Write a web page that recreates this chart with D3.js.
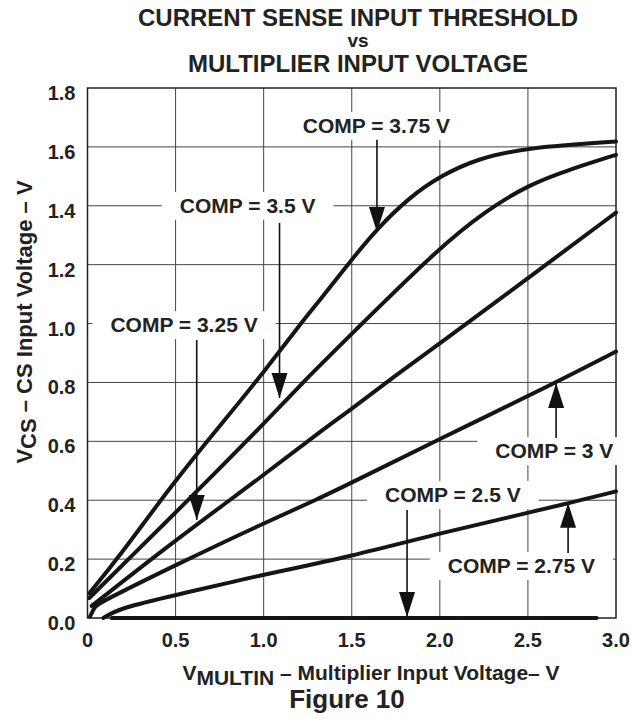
<!DOCTYPE html>
<html>
<head>
<meta charset="utf-8">
<script src="https://cdn.jsdelivr.net/npm/d3@7"></script>
<style>
  body { margin: 0; background: #fff; }
  text { font-family: "Liberation Sans", Arial, Helvetica, sans-serif; font-weight: bold; fill: #222; }
</style>
</head>
<body>
<div id="chart"></div>
<script>
// values: [multiplier input V, CS threshold V]
var comp375 = [[0.01,0.084],[0.17,0.2],[0.5,0.47],[0.81,0.695],[1.0,0.835],[1.21,1.0],[1.32,1.08],[1.49,1.21],[1.64,1.32],[1.83,1.43],[2.0,1.5],[2.21,1.56],[2.5,1.598],[3.0,1.618]];
var comp35  = [[0.01,0.068],[0.5,0.358],[0.62,0.43],[1.0,0.659],[1.245,0.815],[1.5,0.965],[2.0,1.26],[2.27,1.386],[2.5,1.47],[2.72,1.52],[3.0,1.573]];
var comp325 = [[0.024,0.041],[0.5,0.265],[1.0,0.485],[1.32,0.633],[1.5,0.71],[1.74,0.82],[2.0,0.932],[2.5,1.154],[3.0,1.377]];
var comp3   = [[0.015,0.005],[0.04,0.04],[0.08,0.055],[0.5,0.18],[1.0,0.322],[1.32,0.407],[1.5,0.46],[2.0,0.608],[2.66,0.8],[3.0,0.905]];
var comp275 = [[0.09,0.0],[0.185,0.034],[0.5,0.078],[0.87,0.129],[1.0,0.147],[1.5,0.21],[2.0,0.288],[2.5,0.357],[2.73,0.39],[3.0,0.43]];
var comp25  = [[0.137,0.0],[2.89,0.0]];
var curves = [comp375, comp35, comp325, comp3, comp275, comp25];

var xTicks = [0, 0.5, 1.0, 1.5, 2.0, 2.5, 3.0];
var xTickLabels = ["0", "0.5", "1.0", "1.5", "2.0", "2.5", "3.0"];
var yTicks = [0, 0.2, 0.4, 0.6, 0.8, 1.0, 1.2, 1.4, 1.6, 1.8];

// callouts: label centre (x, baseline y) and arrow (x, from y, to y), all in data units
var labels = ["COMP = 3.75 V", "COMP = 3.5 V", "COMP = 3.25 V", "COMP = 3 V", "COMP = 2.5 V", "COMP = 2.75 V"];
var labelAt = [[1.64,1.647],[0.909,1.376],[0.548,0.971],[2.65,0.543],[2.074,0.394],[2.463,0.153]];
var arrows  = [[1.643,1.624,1.311],[1.09,1.342,0.747],[0.62,0.944,0.333],[2.66,0.611,0.798],[1.814,0.367,0.003],[2.728,0.221,0.391]];

var width = 631, height = 719;
var margin = {top: 88, right: 15, bottom: 101, left: 87.5};

var svg = d3.select("#chart").append("svg")
  .attr("width", width)
  .attr("height", height);

var x = d3.scaleLinear().domain([0, 3]).range([margin.left, width - margin.right]);
var y = d3.scaleLinear().domain([0, 1.8]).range([height - margin.bottom, margin.top]);

// grid
svg.append("g").selectAll("line.v")
  .data(xTicks.slice(1, -1)).enter().append("line")
  .attr("x1", d => x(d)).attr("x2", d => x(d))
  .attr("y1", y(0)).attr("y2", y(1.8))
  .style("stroke", "#444").style("stroke-width", 1);
svg.append("g").selectAll("line.h")
  .data(yTicks.slice(1, -1)).enter().append("line")
  .attr("x1", x(0)).attr("x2", x(3))
  .attr("y1", d => y(d)).attr("y2", d => y(d))
  .style("stroke", "#444").style("stroke-width", 1);

svg.append("rect")
  .attr("x", x(0)).attr("y", y(1.8))
  .attr("width", x(3) - x(0)).attr("height", y(0) - y(1.8))
  .style("fill", "none").style("stroke", "#222").style("stroke-width", 1.5);

// tick labels
svg.append("g").selectAll("text")
  .data(yTicks).enter().append("text")
  .attr("x", x(0) - 12).attr("y", d => y(d) + 12)
  .attr("text-anchor", "end")
  .style("font-size", "20px")
  .text(d => d.toFixed(1));
svg.append("g").selectAll("text")
  .data(xTicks).enter().append("text")
  .attr("x", d => x(d)).attr("y", y(0) + 29)
  .attr("text-anchor", "middle")
  .style("font-size", "20px")
  .text((d, i) => xTickLabels[i]);

// callout labels with white boxes over the grid
var lab = svg.append("g").selectAll("g")
  .data(labels).enter().append("g");
lab.append("text")
  .attr("x", (d, i) => x(labelAt[i][0]))
  .attr("y", (d, i) => y(labelAt[i][1]))
  .attr("text-anchor", "middle")
  .style("font-size", "21px")
  .text(d => d);
lab.each(function() {
  var g = d3.select(this), b = g.select("text").node().getBBox();
  g.insert("rect", "text")
    .attr("x", b.x - 18).attr("y", b.y - 2)
    .attr("width", b.width + 36).attr("height", b.height + 5)
    .style("fill", "#fff");
});

// arrows
var arr = svg.append("g").selectAll("g")
  .data(arrows).enter().append("g");
arr.append("line")
  .attr("x1", d => x(d[0])).attr("x2", d => x(d[0]))
  .attr("y1", d => y(d[1])).attr("y2", d => y(d[2]))
  .style("stroke", "#111").style("stroke-width", 1.6);
arr.append("path")
  .attr("d", function(d) {
    var tx = x(d[0]), ty = y(d[2]), dir = y(d[2]) > y(d[1]) ? -1 : 1;
    return "M" + tx + "," + ty + "L" + (tx - 8) + "," + (ty + dir * 25) + "L" + (tx + 8) + "," + (ty + dir * 25) + "Z";
  })
  .style("fill", "#111");

// curves
var line = d3.line()
  .x(d => x(d[0])).y(d => y(d[1]))
  .curve(d3.curveBasis);
svg.append("g").selectAll("path")
  .data(curves).enter().append("path")
  .attr("d", line)
  .style("fill", "none")
  .style("stroke", "#151515")
  .style("stroke-width", 4)
  .style("stroke-linecap", "round");

// titles
var title = svg.append("text")
  .attr("text-anchor", "middle")
  .style("font-size", "24px");
title.append("tspan").attr("x", 358).attr("y", 26).text("CURRENT SENSE INPUT THRESHOLD");
title.append("tspan").attr("x", 358).attr("y", 47).style("font-size", "19px").text("vs");
title.append("tspan").attr("x", 358).attr("y", 72).text("MULTIPLIER INPUT VOLTAGE");

var xt = svg.append("text")
  .attr("x", 371).attr("y", 680)
  .attr("text-anchor", "middle")
  .style("font-size", "21px");
xt.append("tspan").text("V");
xt.append("tspan").attr("dy", 5).text("MULTIN");
xt.append("tspan").attr("dy", -5).text(" \u2013 Multiplier Input Voltage\u2013 V");

svg.append("text")
  .attr("x", 347).attr("y", 708)
  .attr("text-anchor", "middle")
  .style("font-size", "26px")
  .text("Figure 10");

var yt = svg.append("text")
  .attr("transform", "translate(32,322) rotate(-90)")
  .attr("text-anchor", "middle")
  .style("font-size", "22px");
yt.append("tspan").text("V");
yt.append("tspan").attr("dy", 4).text("CS");
yt.append("tspan").attr("dy", -4).text(" \u2013 CS Input Voltage \u2013 V");
</script>
</body>
</html>
